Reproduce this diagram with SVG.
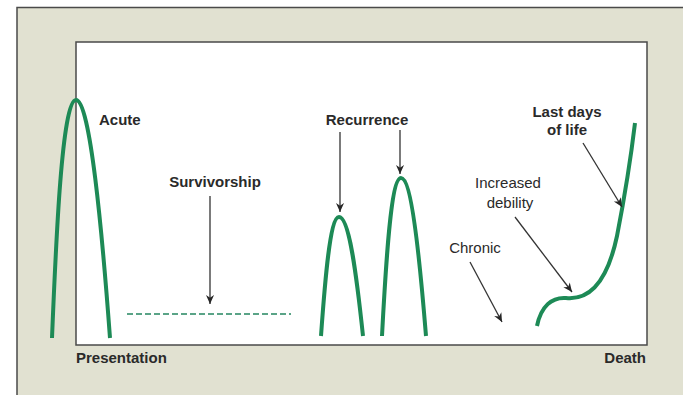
<svg xmlns="http://www.w3.org/2000/svg" width="683" height="395" viewBox="0 0 683 395">
  <defs>
    <marker id="arrow" viewBox="0 0 10 10" refX="10" refY="5" markerWidth="11" markerHeight="9" markerUnits="userSpaceOnUse" orient="auto">
      <path d="M0,0.5 L10,5 L0,9.5 L3,5 Z" fill="#262626"/>
    </marker>
    <style>
      .frame { fill: #e1e1d1; stroke: #4a4a4a; stroke-width: 1.5; }
      .plot { fill: #ffffff; stroke: #4a4a4a; stroke-width: 1.5; }
      .curve { fill: none; stroke: #1d8a56; stroke-width: 4; stroke-linecap: butt; }
      .dash { fill: none; stroke: #5aa487; stroke-width: 2; stroke-dasharray: 6 3; }
      .pointer { fill: none; stroke: #333333; stroke-width: 1.3; marker-end: url(#arrow); }
      .lbl { font-family: "Liberation Sans", Arial, sans-serif; font-size: 15px; fill: #2a2a2a; }
      .b { font-weight: bold; }
    </style>
  </defs>

  <!-- background panel and plotting area -->
  <rect class="frame" x="17" y="7.5" width="680" height="400"/>
  <rect class="plot" x="76" y="42" width="571" height="303"/>

  <!-- disease trajectory curves -->
  <g id="acute">
    <path class="curve" d="M52,338 C56,240 62,100 76,100 C90,100 102,230 110,338"/>
    <text class="lbl b" x="99" y="125">Acute</text>
  </g>

  <g id="survivorship">
    <line class="dash" x1="127" y1="314" x2="291" y2="314"/>
    <text class="lbl b" x="215" y="187" text-anchor="middle">Survivorship</text>
  </g>

  <g id="recurrence">
    <path class="curve" d="M321,336 C325,280 330,217 339,217 C349,217 356,270 363,336"/>
    <path class="curve" d="M382,336 C386,260 391,178 401,178 C411,178 419,250 426,336"/>
    <text class="lbl b" x="367" y="125" text-anchor="middle">Recurrence</text>
  </g>

  <g id="chronic">
    <path class="curve" d="M537,326 C541,306 552,297 566,298 C586,300 606,288 617,236 C624,200 630,165 635,123"/>
    <text class="lbl" x="475" y="253" text-anchor="middle">Chronic</text>
  </g>

  <g id="debility">
    <text class="lbl" x="508" y="188" text-anchor="middle">Increased</text>
    <text class="lbl" x="510" y="208" text-anchor="middle">debility</text>
  </g>

  <g id="last-days">
    <text class="lbl b" x="567" y="117" text-anchor="middle">Last days</text>
    <text class="lbl b" x="567" y="135" text-anchor="middle">of life</text>
  </g>

  <!-- axis end labels -->
  <g id="axis-labels">
    <text class="lbl b" x="76" y="363">Presentation</text>
    <text class="lbl b" x="646" y="363" text-anchor="end">Death</text>
  </g>

  <!-- pointer arrows -->
  <g id="connectors">
    <line class="pointer" x1="210" y1="196" x2="210" y2="304"/>
    <line class="pointer" x1="340" y1="132" x2="340" y2="212"/>
    <line class="pointer" x1="400" y1="130" x2="400" y2="174"/>
    <line class="pointer" x1="470" y1="262" x2="502" y2="322"/>
    <line class="pointer" x1="515" y1="217" x2="572" y2="292"/>
    <line class="pointer" x1="583" y1="143" x2="622" y2="207"/>
  </g>
</svg>
